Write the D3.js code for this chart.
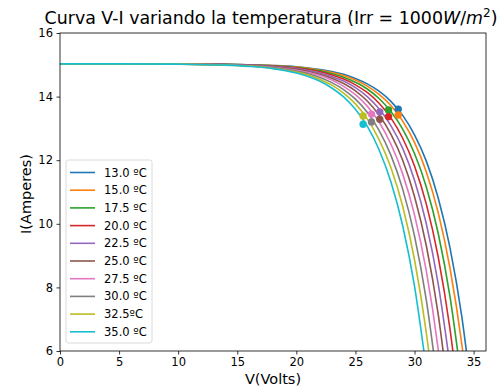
<!DOCTYPE html>
<html>
<head>
<meta charset="utf-8">
<title>Curva V-I</title>
<script src="https://d3js.org/d3.v7.min.js"></script>
<style>
body { margin: 0; padding: 0; background: #fff; font-family: "DejaVu Sans", sans-serif; }
svg { display: block; }
</style>
</head>
<body>
<div id="chart"></div>
<script>

// temperatures (legend labels) and tab10 colours
var temps = ['13.0 ºC', '15.0 ºC', '17.5 ºC', '20.0 ºC', '22.5 ºC', '25.0 ºC', '27.5 ºC', '30.0 ºC', '32.5ºC', '35.0 ºC'];
var colors = ['#1f77b4', '#ff7f0e', '#2ca02c', '#d62728', '#9467bd', '#8c564b', '#e377c2', '#7f7f7f', '#bcbd22', '#17becf'];

// voltage grid shared by the curves
var volts = [0, 5, 10, 14, 16, 18, 20, 21, 22, 23, 24, 25, 26, 27, 28, 29, 30, 31, 32, 33, 34, 35];

// current (A) for each curve
var amps13 = [15.03, 15.03, 15.03, 15.02, 15.00, 14.98, 14.94, 14.90, 14.85, 14.79, 14.70, 14.57, 14.40, 14.17, 13.85, 13.41, 12.80, 11.97, 10.82, 9.25, 7.09, 4.12];
var amps15 = [15.03, 15.03, 15.03, 15.01, 15.00, 14.98, 14.93, 14.89, 14.83, 14.76, 14.66, 14.52, 14.33, 14.07, 13.72, 13.23, 12.56, 11.63, 10.36, 8.61, 6.22, 2.92];
var amps175 = [15.03, 15.03, 15.03, 15.01, 15.00, 14.97, 14.91, 14.87, 14.81, 14.72, 14.61, 14.45, 14.24, 13.94, 13.53, 12.98, 12.21, 11.16, 9.71, 7.72, 4.99];
var amps20 = [15.03, 15.03, 15.02, 15.01, 14.99, 14.96, 14.90, 14.85, 14.78, 14.68, 14.55, 14.37, 14.13, 13.79, 13.33, 12.69, 11.82, 10.62, 8.97, 6.70, 3.59];
var amps225 = [15.03, 15.03, 15.02, 15.01, 14.99, 14.95, 14.88, 14.82, 14.74, 14.63, 14.49, 14.28, 14.00, 13.62, 13.09, 12.37, 11.37, 10.00, 8.12, 5.55];
var amps25 = [15.03, 15.03, 15.02, 15.00, 14.98, 14.94, 14.86, 14.79, 14.70, 14.58, 14.41, 14.18, 13.86, 13.42, 12.82, 12.00, 10.86, 9.31, 7.17, 4.23];
var amps275 = [15.03, 15.03, 15.02, 15.00, 14.97, 14.92, 14.83, 14.76, 14.66, 14.52, 14.32, 14.06, 13.70, 13.20, 12.51, 11.57, 10.28, 8.51, 6.07, 2.72];
var amps30 = [15.03, 15.03, 15.02, 15.00, 14.97, 14.91, 14.80, 14.72, 14.60, 14.44, 14.22, 13.92, 13.51, 12.94, 12.16, 11.09, 9.62, 7.60, 4.83];
var amps325 = [15.03, 15.03, 15.02, 14.99, 14.96, 14.89, 14.77, 14.68, 14.54, 14.36, 14.11, 13.77, 13.30, 12.65, 11.77, 10.55, 8.87, 6.57, 3.41];
var amps35 = [15.03, 15.03, 15.02, 14.99, 14.95, 14.88, 14.74, 14.63, 14.48, 14.27, 13.99, 13.60, 13.07, 12.33, 11.32, 9.94, 8.04, 5.42];
var ampSeries = [amps13, amps15, amps175, amps20, amps225, amps25, amps275, amps30, amps325, amps35];

// maximum power points
var mppV = [28.62, 28.62, 27.8, 27.8, 27.06, 27.06, 26.36, 26.36, 25.65, 25.65];
var mppI = [13.60, 13.42, 13.58, 13.37, 13.52, 13.29, 13.45, 13.20, 13.39, 13.13];

var xTicks = [0, 5, 10, 15, 20, 25, 30, 35];
var yTicks = [6, 8, 10, 12, 14, 16];

var W = 503, H = 391;
var margin = {top: 33, right: 17, bottom: 40, left: 60};
var width = W - margin.left - margin.right,
    height = H - margin.top - margin.bottom;

var svg = d3.select('#chart').append('svg')
    .attr('width', W)
    .attr('height', H);

var g = svg.append('g')
    .attr('transform', 'translate(' + margin.left + ',' + margin.top + ')');

var x = d3.scaleLinear().domain([0, 36.05]).range([0, width]);
var y = d3.scaleLinear().domain([6, 16]).range([height, 0]);

g.append('clipPath').attr('id', 'clip')
  .append('rect').attr('width', width).attr('height', height);

var plot = g.append('g').attr('clip-path', 'url(#clip)');

var line = d3.line()
    .x(function(d) { return x(d[0]); })
    .y(function(d) { return y(d[1]); })
    .curve(d3.curveMonotoneX);

ampSeries.forEach(function(amps, i) {
  var pts = amps.map(function(a, j) { return [volts[j], a]; });
  plot.append('path')
    .datum(pts)
    .attr('d', line)
    .attr('fill', 'none')
    .attr('stroke', colors[i])
    .attr('stroke-width', 1.6);
});

ampSeries.forEach(function(amps, i) {
  plot.append('circle')
    .attr('cx', x(mppV[i]))
    .attr('cy', y(mppI[i]))
    .attr('r', 3.7)
    .attr('fill', colors[i]);
});

// axes
var xAxis = g.append('g')
    .attr('transform', 'translate(0,' + height + ')')
    .call(d3.axisBottom(x).tickValues(xTicks).tickSize(3.5).tickPadding(3.5));
var yAxis = g.append('g')
    .call(d3.axisLeft(y).tickValues(yTicks).tickSize(3.5).tickPadding(3.5));

[xAxis, yAxis].forEach(function(a) {
  a.select('.domain').remove();
  a.selectAll('.tick line').attr('stroke', '#000').attr('stroke-width', 0.8);
  a.selectAll('.tick text').attr('font-size', 11.5).attr('fill', '#000')
    .attr('font-family', '"DejaVu Sans", sans-serif');
});

g.append('rect')
    .attr('width', width).attr('height', height)
    .attr('fill', 'none').attr('stroke', '#000').attr('stroke-width', 0.8);

// legend
var leg = g.append('g').attr('transform', 'translate(6,' + 127 + ')');
leg.append('rect')
    .attr('width', 86).attr('height', 183)
    .attr('rx', 2.5)
    .attr('fill', '#fff').attr('fill-opacity', 0.8)
    .attr('stroke', '#d0d0d0').attr('stroke-width', 0.8);
temps.forEach(function(t, i) {
  var yy = 12.5 + i * 17.7;
  leg.append('line')
    .attr('x1', 4).attr('x2', 29).attr('y1', yy).attr('y2', yy)
    .attr('stroke', colors[i]).attr('stroke-width', 1.6);
  leg.append('text')
    .attr('x', 38).attr('y', yy + 4)
    .attr('font-size', 11.5)
    .attr('font-family', '"DejaVu Sans", sans-serif')
    .text(t);
});

// title and labels
var title = svg.append('text')
    .attr('x', margin.left + width / 2 - 2).attr('y', 23.5)
    .attr('text-anchor', 'middle')
    .attr('font-size', 17.4)
    .attr('font-family', '"DejaVu Sans", sans-serif');
title.append('tspan').text('Curva V-I variando la temperatura (Irr = 1000');
title.append('tspan').attr('font-style', 'italic').text('W');
title.append('tspan').text('/');
title.append('tspan').attr('font-style', 'italic').text('m');
title.append('tspan').attr('font-size', 12).attr('dy', -7).text('2');
title.append('tspan').attr('dy', 7).text(')');

svg.append('text')
    .attr('x', margin.left + width / 2).attr('y', 384)
    .attr('text-anchor', 'middle')
    .attr('font-size', 14.5)
    .attr('font-family', '"DejaVu Sans", sans-serif')
    .text('V(Volts)');

svg.append('text')
    .attr('transform', 'translate(31,' + (margin.top + height / 2 + 2) + ') rotate(-90)')
    .attr('text-anchor', 'middle')
    .attr('font-size', 14.5)
    .attr('font-family', '"DejaVu Sans", sans-serif')
    .text('I(Amperes)');

</script>
</body>
</html>
